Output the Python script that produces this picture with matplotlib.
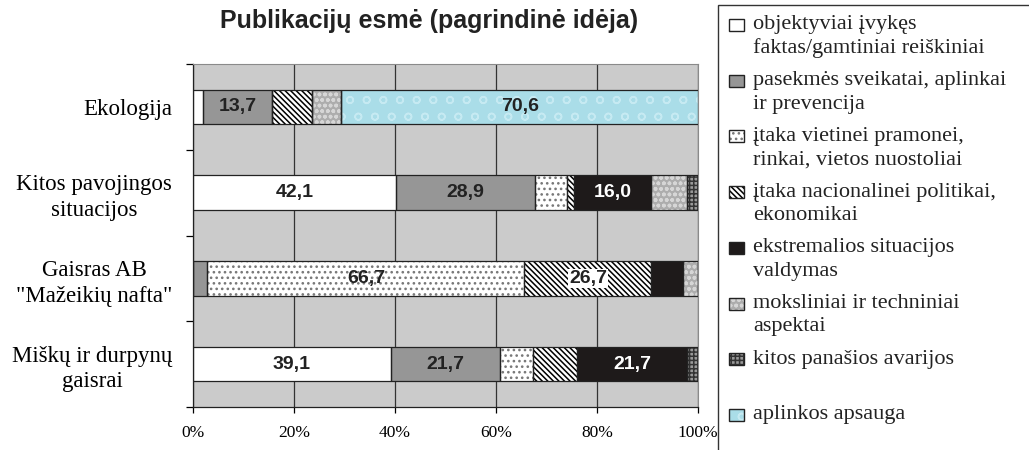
import numpy as np
import matplotlib
matplotlib.use("Agg")
import matplotlib.pyplot as plt
from matplotlib.patches import Rectangle

plt.rcParams['hatch.linewidth'] = 1.1

# categories, top to bottom
categories = ["Ekologija", "Kitos pavojingos\nsituacijos",
              "Gaisras AB\n\"Mažeikių nafta\"", "Miškų ir durpynų\ngaisrai"]

# values (%) per series, in category order
objektyviai = [2.0, 42.1, 0.0, 39.1]
pasekmes = [13.7, 28.9, 3.0, 21.7]
vietinei = [0.0, 6.7, 66.7, 6.5]
nacionalinei = [7.8, 1.4, 26.7, 8.7]
ekstremalios = [0.0, 16.0, 6.7, 21.7]
moksliniai = [5.9, 7.5, 3.1, 0.0]
kitos_avarijos = [0.0, 2.2, 0.0, 2.2]
aplinkos = [70.6, 0.0, 0.0, 0.0]

series_labels = ["objektyviai įvykęs\nfaktas/gamtiniai reiškiniai",
                 "pasekmės sveikatai, aplinkai\nir prevencija",
                 "įtaka vietinei pramonei,\nrinkai, vietos nuostoliai",
                 "įtaka nacionalinei politikai,\nekonomikai",
                 "ekstremalios situacijos\nvaldymas",
                 "moksliniai ir techniniai\naspektai",
                 "kitos panašios avarijos",
                 "aplinkos apsauga"]

title = "Publikacijų esmė (pagrindinė idėja)"
xticks = [0, 20, 40, 60, 80, 100]

series = [objektyviai, pasekmes, vietinei, nacionalinei,
          ekstremalios, moksliniai, kitos_avarijos, aplinkos]

# face colour, hatch, hatch colour
styles = [("white", None, "white"),
          ("#969696", None, "#969696"),
          ("white", "...", "#777777"),
          ("white", "\\\\\\\\\\\\", "black"),
          ("#1e1a1a", None, "#1e1a1a"),
          ("#adadad", "ooo", "#d6d6d6"),
          ("#9a9a9a", "++++", "#333333"),
          ("#aadde8", "o", "#c6eaf2")]

serif = "Liberation Serif"
sans = "Liberation Sans"

fig = plt.figure(figsize=(10.29, 4.5), dpi=100)
W, H = 1029, 450
ax = fig.add_axes([193 / W, 1 - 407 / H, 505 / W, 343 / H])
ax.set_facecolor("#cbcbcb")

data = np.array(series, dtype=float)
totals = data.sum(axis=0)
shares = data / totals * 100
y = np.arange(len(categories))[::-1]
left = np.zeros(len(categories))

for i, vals in enumerate(shares):
    face, hatch, hcol = styles[i]
    ax.barh(y, vals, left=left, height=0.40, color=face, edgecolor=hcol,
            linewidth=0, hatch=hatch, zorder=2)
    ax.barh(y, vals, left=left, height=0.40, fill=False,
            edgecolor="#222222", linewidth=0.9, zorder=3)
    for j, v in enumerate(vals):
        raw = data[i, j]
        if raw > 10:
            txt = f"{raw:.1f}".replace(".", ",")
            col = "white" if i == 4 else "#222222"
            bbox = None
            if i == 3:
                bbox = dict(facecolor="white", edgecolor="none", pad=0.5)
            ax.text(left[j] + v / 2, y[j], txt, ha="center", va="center",
                    fontsize=14, fontweight="bold", family=sans, color=col,
                    bbox=bbox, zorder=4)
    left += vals

ax.set_xlim(0, 100)
ax.set_ylim(-0.5, len(categories) - 0.5)
ax.set_xticks(xticks)
ax.set_xticklabels([f"{t}%" for t in xticks], family=serif, fontsize=12.5)
ax.set_yticks(y)
ax.set_yticklabels(categories, family=serif, fontsize=16.5, ha="right",
                   multialignment="center", linespacing=1.3)
ax.set_yticks(np.arange(len(categories) + 1) - 0.5, minor=True)
ax.tick_params(axis="y", which="major", length=0, pad=15)
ax.tick_params(axis="y", which="minor", length=5, direction="out", width=0.9)
ax.tick_params(axis="x", length=4, direction="out", width=0.9, pad=9)
ax.xaxis.grid(True, color="#333333", linewidth=0.9, zorder=1)
ax.set_axisbelow(True)
for s in ["top", "right"]:
    ax.spines[s].set_color("#8a8a8a")
for s in ["left", "bottom"]:
    ax.spines[s].set_color("#222222")
    ax.spines[s].set_linewidth(0.9)

fig.text(429 / W, 1 - 21 / H, title, ha="center", va="center",
         fontsize=18, fontweight="bold", family=sans, color="#222222")

# legend drawn in pixel coordinates on top
lax = fig.add_axes([0, 0, 1, 1], zorder=5)
lax.set_xlim(0, W)
lax.set_ylim(H, 0)
lax.axis("off")
lax.add_patch(Rectangle((718, 5), 400, 500, facecolor="white",
                        edgecolor="#333333", linewidth=1.0))
for i, lab in enumerate(series_labels):
    yc = 25 + i * 55.7
    face, hatch, hcol = styles[i]
    lax.add_patch(Rectangle((729, yc - 6), 15, 12, facecolor=face,
                            edgecolor=hcol, linewidth=0, hatch=hatch))
    lax.add_patch(Rectangle((729, yc - 6), 15, 12, fill=False,
                            edgecolor="#222222", linewidth=1.0))
    for k, line in enumerate(lab.split("\n")):
        lax.text(753, yc + k * 23.5, line, ha="left", va="center",
                 fontsize=16, family=serif, color="#222222")

fig.savefig("out.png", dpi=100)
